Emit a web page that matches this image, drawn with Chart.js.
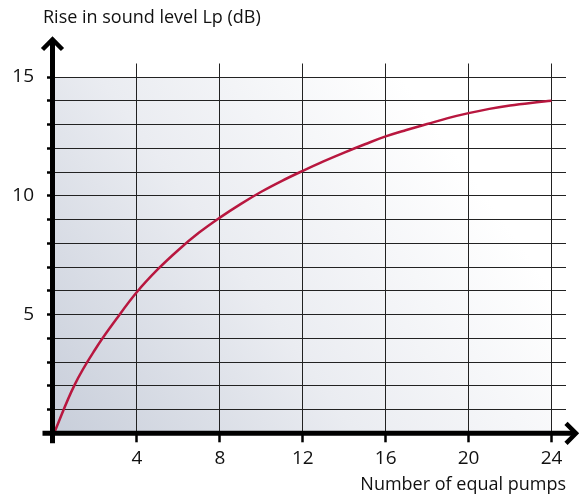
<!DOCTYPE html>
<html><head><meta charset="utf-8">
<script src="https://cdn.jsdelivr.net/npm/chart.js@4"></script>
<style>html,body{margin:0;padding:0;background:#fff}#wrap{width:582px;height:497px}</style>
</head><body><div id="wrap"><canvas id="c" width="582" height="497"></canvas></div>
<script>
const pumps = [0,1,2,3,4,5,6,7,8,9,10,11,12,13,14,15,16,17,18,19,20,21,22,23,24];
const riseDb = [0,2.05,3.55,4.8,5.95,6.9,7.72,8.45,9.08,9.65,10.17,10.63,11.05,11.45,11.82,12.17,12.5,12.77,13.02,13.27,13.48,13.66,13.8,13.91,14.0];
const xTickValues = [4,8,12,16,20,24];
const yTickValues = [1,2,3,4,5,6,7,8,9,10,11,12,13,14,15];
const yLabelValues = [5,10,15];
const yTitleText = 'Rise in sound level Lp (dB)';
const xTitleText = 'Number of equal pumps';

const FONT = "'Open Sans', 'Noto Sans', sans-serif";

const bgPlugin = {
  id: 'bg',
  beforeDraw(chart) {
    const {ctx} = chart;
    const xs = chart.scales.x, ys = chart.scales.y;
    const x0 = xs.getPixelForValue(0), x1 = xs.getPixelForValue(24);
    const y0 = ys.getPixelForValue(0), y1 = ys.getPixelForValue(15);
    const g = ctx.createLinearGradient(x0, y0, x1, y1);
    g.addColorStop(0, '#c8ceda');
    g.addColorStop(0.4, '#eaecf1');
    g.addColorStop(0.8, '#ffffff');
    ctx.save();
    ctx.fillStyle = g;
    ctx.fillRect(x0, y1, x1 - x0, y0 - y1);
    ctx.restore();
  }
};

const axesPlugin = {
  id: 'axes',
  afterDatasetsDraw(chart) {
    const {ctx} = chart;
    const xs = chart.scales.x, ys = chart.scales.y;
    const ax = xs.getPixelForValue(0) - 1.5;
    const ay = ys.getPixelForValue(0);
    const top = chart.chartArea.top - 25;
    const right = chart.chartArea.right + 11;
    ctx.save();
    ctx.strokeStyle = '#000';
    ctx.lineWidth = 5;
    ctx.lineCap = 'butt';
    ctx.lineJoin = 'miter';
    ctx.beginPath();
    ctx.moveTo(ax, ay + 10);
    ctx.lineTo(ax, top + 1);
    ctx.moveTo(ax - 10, ay);
    ctx.lineTo(right - 1, ay);
    ctx.stroke();
    ctx.lineWidth = 4.5;
    ctx.beginPath();
    ctx.moveTo(ax - 10, top + 11);
    ctx.lineTo(ax, top + 1);
    ctx.lineTo(ax + 10, top + 11);
    ctx.moveTo(right - 11, ay - 10);
    ctx.lineTo(right - 1, ay);
    ctx.lineTo(right - 11, ay + 10);
    ctx.stroke();
    // y-axis title (horizontal, top left)
    ctx.fillStyle = '#111';
    ctx.font = "18px " + FONT;
    ctx.textAlign = 'left';
    ctx.textBaseline = 'middle';
    ctx.fillText(yTitleText, 43, 18);
    ctx.restore();
  }
};

new Chart(document.getElementById('c'), {
  type: 'line',
  data: {
    datasets: [{
      data: pumps.map((p, i) => ({x: p, y: riseDb[i]})),
      borderColor: '#b8173f',
      borderWidth: 2.5,
      pointRadius: 0,
      tension: 0.4,
      fill: false
    }]
  },
  options: {
    responsive: false,
    devicePixelRatio: 1,
    animation: false,
    layout: {padding: {left: 0, right: 16, top: 63.5, bottom: 0}},
    plugins: {
      legend: {display: false},
      tooltip: {enabled: false},
      title: {display: false}
    },
    scales: {
      x: {
        type: 'linear', min: 0, max: 24.7,
        afterBuildTicks: s => { s.ticks = xTickValues.map(v => ({value: v})); },
        afterFit: s => { s.height = 63.7; },
        border: {display: false},
        grid: {color: '#222', lineWidth: 1, tickLength: 9, tickColor: '#000', tickWidth: 2.5},
        ticks: {color: '#111', font: {family: FONT, size: 19}, padding: 5, maxRotation: 0, autoSkip: false,
                callback: v => String(v)},
        title: {display: true, text: xTitleText, align: 'end', color: '#111',
                font: {family: FONT, size: 18}, padding: {top: 0, bottom: 1}}
      },
      y: {
        type: 'linear', min: 0, max: 15.57,
        afterBuildTicks: s => { s.ticks = yTickValues.map(v => ({value: v})); },
        afterFit: s => { s.width = 54; },
        border: {display: false},
        grid: {color: '#222', lineWidth: 1, tickLength: 7, tickColor: '#000', tickWidth: 2.5},
        ticks: {color: '#111', font: {family: FONT, size: 19}, padding: 13, autoSkip: false,
                callback: v => yLabelValues.includes(v) ? String(v) : ''}
      }
    }
  },
  plugins: [bgPlugin, axesPlugin]
});
</script>
</body></html>
